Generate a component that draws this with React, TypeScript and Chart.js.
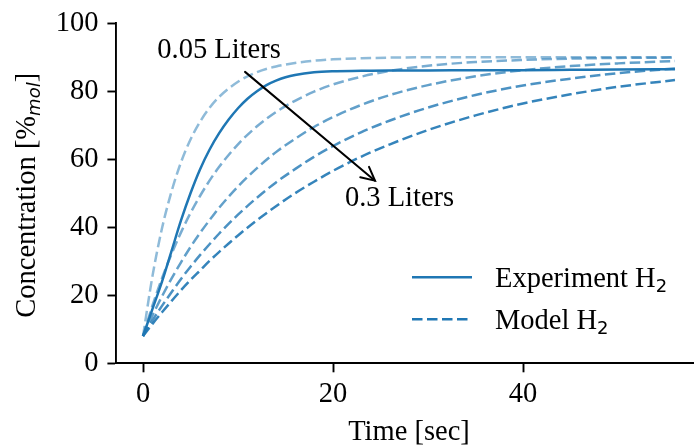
import React, { useEffect, useRef } from "react";
import { Chart, registerables } from "chart.js";

Chart.register(...registerables);

// Time samples (s) for the model curves
const TIME = [0, 1, 2, 3, 4, 5, 6, 7, 8, 10, 12, 14, 16, 18, 20, 23, 26, 30, 35, 40, 45, 50, 56];

// Model H2 concentration for each reactor volume (L)
const VOLUMES = [0.05, 0.1125, 0.175, 0.2375, 0.3];
const MODEL_V1 = [8, 25.7, 39.7, 50.5, 59.1, 65.8, 71.0, 75.1, 78.3, 82.8, 85.6, 87.3, 88.3, 89.0, 89.4, 89.7, 89.9, 90.0, 90.0, 90.0, 90.0, 90.0, 90.0];
const MODEL_V2 = [8, 17.0, 25.0, 32.1, 38.5, 44.2, 49.2, 53.7, 57.7, 64.4, 69.7, 73.9, 77.2, 79.9, 82.0, 84.3, 86.0, 87.5, 88.6, 89.2, 89.6, 89.8, 89.9];
const MODEL_V3 = [8, 14.1, 19.7, 24.9, 29.7, 34.2, 38.3, 42.1, 45.7, 52.0, 57.4, 62.1, 66.0, 69.5, 72.4, 76.0, 78.9, 81.8, 84.4, 86.2, 87.4, 88.2, 88.9];
const MODEL_V4 = [8, 12.6, 16.9, 20.9, 24.8, 28.4, 31.8, 35.0, 38.1, 43.7, 48.7, 53.2, 57.1, 60.7, 63.9, 68.0, 71.4, 75.2, 78.9, 81.7, 83.7, 85.3, 86.7];
const MODEL_V5 = [8, 11.6, 15.0, 18.3, 21.5, 24.5, 27.3, 30.1, 32.7, 37.6, 42.1, 46.2, 50.0, 53.4, 56.6, 60.8, 64.4, 68.6, 72.9, 76.4, 79.1, 81.3, 83.3];
const MODEL_SERIES = [MODEL_V1, MODEL_V2, MODEL_V3, MODEL_V4, MODEL_V5];

// Measured H2 concentration
const EXP_TIME = [0, 1, 2, 3, 4, 5, 6, 7, 8, 9, 10, 11, 12, 13, 14, 15, 16, 18, 20, 23, 26, 30, 35, 40, 45, 50, 56];
const EXPERIMENT = [8, 16, 24, 33, 42, 50, 57, 62.8, 67.6, 71.6, 75, 77.8, 80, 81.8, 83.1, 84.1, 84.8, 85.6, 85.9, 86.0, 86.1, 86.1, 86.2, 86.2, 86.3, 86.4, 86.5];

// Axis ticks
const X_TICKS = [0, 20, 40];
const Y_TICKS = [0, 20, 40, 60, 80, 100];

// Text
const X_TITLE = "Time [sec]";
const Y_TITLE_MAIN = "Concentration [";
const Y_TITLE_PCT = "%";
const Y_TITLE_SUB = "mol";
const Y_TITLE_END = "]";
const LEGEND_LABELS = ["Experiment H", "Model H"];
const LEGEND_SUB = "2";
const LABEL_FIRST = "0.05 Liters";
const LABEL_LAST = "0.3 Liters";

// Annotation anchors in data units (time, concentration)
const LABEL_FIRST_AT = [8.0, 89.7];
const LABEL_LAST_AT = [27.0, 46.2];
const ARROW_FROM = [10.74, 85.7];
const ARROW_TO = [24.42, 53.7];

const BLUE = [31, 119, 180];
const MODEL_ALPHAS = [0.5, 0.6, 0.7, 0.8, 0.9];
const SERIF = '"Liberation Serif", "Times New Roman", serif';
const SANS = '"DejaVu Sans", sans-serif';
const FS = 28.5;
const SUB_FS = 18;
const DASH = [10.5, 4.5];
const LINE_W = 2.5;

const rgba = (a: number) => `rgba(${BLUE[0]},${BLUE[1]},${BLUE[2]},${a})`;

type Part = { text: string; font: string; dy?: number };

function drawParts(ctx: CanvasRenderingContext2D, parts: Part[], x: number, y: number, align: "left" | "center") {
  let total = 0;
  const widths = parts.map((p) => {
    ctx.font = p.font;
    const w = ctx.measureText(p.text).width;
    total += w;
    return w;
  });
  let cx = align === "center" ? x - total / 2 : x;
  ctx.textAlign = "left";
  ctx.textBaseline = "alphabetic";
  parts.forEach((p, i) => {
    ctx.font = p.font;
    ctx.fillText(p.text, cx, y + (p.dy || 0));
    cx += widths[i];
  });
}

const overlay = {
  id: "overlay",
  afterDraw(chart: any) {
    const ctx: CanvasRenderingContext2D = chart.ctx;
    const xs = chart.scales.x;
    const ys = chart.scales.y;
    const area = chart.chartArea;
    ctx.save();
    ctx.fillStyle = "#000";
    ctx.strokeStyle = "#000";

    // arrow from the smallest to the largest volume
    const ax0 = xs.getPixelForValue(ARROW_FROM[0]);
    const ay0 = ys.getPixelForValue(ARROW_FROM[1]);
    const ax1 = xs.getPixelForValue(ARROW_TO[0]);
    const ay1 = ys.getPixelForValue(ARROW_TO[1]);
    ctx.lineWidth = 2;
    ctx.lineCap = "round";
    ctx.beginPath();
    ctx.moveTo(ax0, ay0);
    ctx.lineTo(ax1, ay1);
    ctx.stroke();
    const ang = Math.atan2(ay1 - ay0, ax1 - ax0);
    const hl = 13.5;
    const hw = 6.8;
    const bx = ax1 - hl * Math.cos(ang);
    const by = ay1 - hl * Math.sin(ang);
    ctx.beginPath();
    ctx.moveTo(bx + hw * Math.sin(ang), by - hw * Math.cos(ang));
    ctx.lineTo(ax1, ay1);
    ctx.lineTo(bx - hw * Math.sin(ang), by + hw * Math.cos(ang));
    ctx.stroke();
    ctx.lineCap = "butt";

    ctx.font = `${FS}px ${SERIF}`;
    ctx.textAlign = "center";
    ctx.textBaseline = "alphabetic";
    ctx.fillText(LABEL_FIRST, xs.getPixelForValue(LABEL_FIRST_AT[0]), ys.getPixelForValue(LABEL_FIRST_AT[1]));
    ctx.fillText(LABEL_LAST, xs.getPixelForValue(LABEL_LAST_AT[0]), ys.getPixelForValue(LABEL_LAST_AT[1]));

    // legend
    const lx0 = 412;
    const lx1 = 472;
    const rows = [277.3, 319.3];
    rows.forEach((ry, i) => {
      ctx.strokeStyle = rgba(1);
      ctx.lineWidth = LINE_W;
      ctx.setLineDash(i === 0 ? [] : DASH);
      ctx.beginPath();
      ctx.moveTo(lx0, ry);
      ctx.lineTo(lx1, ry);
      ctx.stroke();
      ctx.setLineDash([]);
      drawParts(
        ctx,
        [
          { text: LEGEND_LABELS[i], font: `${FS}px ${SERIF}` },
          { text: LEGEND_SUB, font: `${SUB_FS}px ${SANS}`, dy: 5 },
        ],
        495,
        ry + 9.4,
        "left"
      );
    });

    // x-axis title
    drawParts(ctx, [{ text: X_TITLE, font: `${FS}px ${SERIF}` }], (area.left + area.right) / 2, area.bottom + 76.2, "center");

    // y-axis title (rotated)
    ctx.save();
    ctx.translate(35, (area.top + area.bottom) / 2 + 2);
    ctx.rotate(-Math.PI / 2);
    drawParts(
      ctx,
      [
        { text: Y_TITLE_MAIN, font: `${FS}px ${SERIF}` },
        { text: Y_TITLE_PCT, font: `${FS}px ${SERIF}` },
        { text: Y_TITLE_SUB, font: `italic ${SUB_FS}px ${SANS}`, dy: 5 },
        { text: Y_TITLE_END, font: `${FS}px ${SERIF}` },
      ],
      0,
      0,
      "center"
    );
    ctx.restore();

    ctx.restore();
  },
};

export default function App() {
  const canvasRef = useRef<HTMLCanvasElement | null>(null);

  useEffect(() => {
    const canvas = canvasRef.current;
    if (!canvas) return;

    const modelSets = MODEL_SERIES.map((vals, i) => ({
      label: `Model H2 ${VOLUMES[i]} L`,
      data: TIME.map((t, j) => ({ x: t, y: vals[j] })),
      borderColor: rgba(MODEL_ALPHAS[i]),
      borderWidth: LINE_W,
      borderDash: DASH,
      pointRadius: 0,
      fill: false,
      cubicInterpolationMode: "monotone" as const,
    }));

    const expSet = {
      label: "Experiment H2",
      data: EXP_TIME.map((t, j) => ({ x: t, y: EXPERIMENT[j] })),
      borderColor: rgba(1),
      borderWidth: LINE_W,
      pointRadius: 0,
      fill: false,
      cubicInterpolationMode: "monotone" as const,
    };

    const tickFont = { family: SERIF, size: FS, lineHeight: 1 };

    const chart = new Chart(canvas, {
      type: "line",
      data: { datasets: [...modelSets, expSet] },
      options: {
        animation: false,
        responsive: false,
        devicePixelRatio: 1,
        layout: { padding: { top: 16, right: 0.4, left: 0, bottom: 0 } },
        plugins: { legend: { display: false }, tooltip: { enabled: false } },
        scales: {
          x: {
            type: "linear",
            min: -2.8,
            max: 58.8,
            afterFit: (s: any) => {
              s.height = 84.7;
            },
            afterBuildTicks: (s: any) => {
              s.ticks = X_TICKS.map((v) => ({ value: v }));
            },
            ticks: { font: tickFont, color: "#000", padding: 8, maxRotation: 0, autoSkip: false },
            grid: { drawOnChartArea: false, drawTicks: true, tickLength: 9, tickWidth: 1.9, tickColor: "#000" },
            border: { display: true, color: "#000", width: 1.9 },
          },
          y: {
            type: "linear",
            min: 0,
            max: 100,
            afterFit: (s: any) => {
              s.width = 116.4;
            },
            afterBuildTicks: (s: any) => {
              s.ticks = Y_TICKS.map((v) => ({ value: v }));
            },
            ticks: { font: tickFont, color: "#000", padding: 9, autoSkip: false },
            grid: { drawOnChartArea: false, drawTicks: true, tickLength: 9, tickWidth: 1.9, tickColor: "#000" },
            border: { display: true, color: "#000", width: 1.9 },
          },
        },
      },
      plugins: [overlay],
    });

    return () => chart.destroy();
  }, []);

  return (
    <div style={{ position: "fixed", left: 0, top: 0, width: 694, height: 448, overflow: "hidden", background: "#fff" }}>
      <canvas ref={canvasRef} width={702} height={448} style={{ display: "block" }} />
    </div>
  );
}
